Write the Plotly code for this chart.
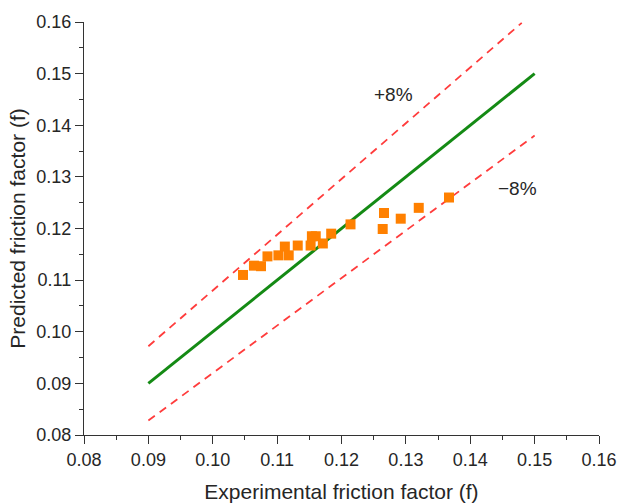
import plotly.graph_objects as go

# Experimental vs. predicted friction factor
experimental = [0.1047, 0.1064, 0.1075, 0.1085, 0.1102, 0.1118, 0.1112, 0.1132,
                0.1152, 0.1154, 0.1160, 0.1171, 0.1184, 0.1214, 0.1266, 0.1264,
                0.1292, 0.1320, 0.1367]
predicted = [0.1110, 0.1128, 0.1127, 0.1146, 0.1148, 0.1148, 0.1165, 0.1167,
             0.1167, 0.1185, 0.1185, 0.1171, 0.1190, 0.1208, 0.1230, 0.1199,
             0.1219, 0.1240, 0.1260]

# Reference lines: perfect agreement and +/-8 % bands
ideal_x = [0.09, 0.15]
upper_x = [0.09, 0.148]
lower_x = [0.09, 0.15]
band = 0.08

tick_vals = [0.08, 0.09, 0.10, 0.11, 0.12, 0.13, 0.14, 0.15, 0.16]
tick_text = ["0.08", "0.09", "0.10", "0.11", "0.12", "0.13", "0.14", "0.15", "0.16"]

font_family = "Liberation Sans, Arial, sans-serif"
text_color = "#262626"

fig = go.Figure()

fig.add_trace(go.Scatter(
    x=upper_x, y=[v * (1 + band) for v in upper_x], mode="lines",
    line=dict(color="#ff3c3c", width=1.8, dash="8px,6px"), showlegend=False,
))
fig.add_trace(go.Scatter(
    x=lower_x, y=[v * (1 - band) for v in lower_x], mode="lines",
    line=dict(color="#ff3c3c", width=1.8, dash="8px,6px"), showlegend=False,
))
fig.add_trace(go.Scatter(
    x=ideal_x, y=ideal_x, mode="lines",
    line=dict(color="#148a14", width=3), showlegend=False,
))
fig.add_trace(go.Scatter(
    x=experimental, y=predicted, mode="markers",
    marker=dict(symbol="square", size=10, color="#ff8000"), showlegend=False,
))

fig.add_annotation(x=0.1280, y=0.1459, text="+8%", showarrow=False,
                   font=dict(family=font_family, size=19, color=text_color))
fig.add_annotation(x=0.1474, y=0.1278, text="\u22128%", showarrow=False,
                   font=dict(family=font_family, size=19, color=text_color))

axis_common = dict(
    range=[0.08, 0.16],
    tickmode="array", tickvals=tick_vals, ticktext=tick_text,
    ticks="outside", ticklen=8, tickwidth=1.3, tickcolor="#333333",
    minor=dict(ticks="outside", ticklen=4, tickwidth=1.3, tickcolor="#333333",
               dtick=0.005, tick0=0.08, showgrid=False),
    showline=True, linecolor="#333333", linewidth=1.3,
    showgrid=False, zeroline=False, mirror=False,
    tickfont=dict(family=font_family, size=18, color=text_color),
)

fig.update_xaxes(**axis_common, automargin=False,
                 title=dict(text="Experimental friction factor (f)",
                            font=dict(family=font_family, size=21, color=text_color)))
fig.update_yaxes(**axis_common, automargin=True,
                 title=dict(text="Predicted friction factor (f)", standoff=4,
                            font=dict(family=font_family, size=21, color=text_color)))

fig.update_layout(
    width=617, height=503,
    margin=dict(l=84, r=18, t=19, b=68),
    plot_bgcolor="white", paper_bgcolor="white",
)

fig.write_html("out.html")
